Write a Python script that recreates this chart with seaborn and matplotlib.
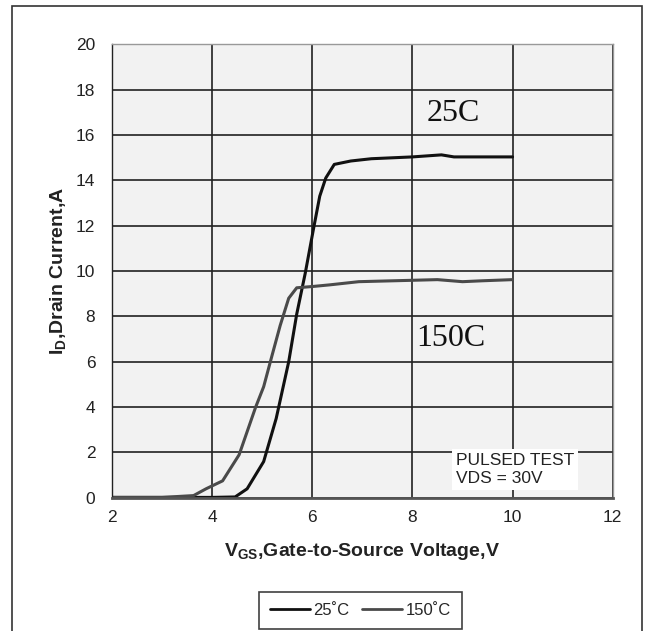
import numpy as np
import pandas as pd
import matplotlib.pyplot as plt
import seaborn as sns
from matplotlib.patches import Rectangle

# Datos (VGS en V, ID en A)
vgs_25 = [2.0, 3.0, 4.0, 4.46, 4.70, 5.03, 5.28, 5.53, 5.69, 5.86, 6.02, 6.15,
          6.27, 6.44, 6.77, 7.18, 8.0, 8.58, 8.83, 10.0]
id_25 = [0.02, 0.02, 0.02, 0.04, 0.4, 1.6, 3.5, 6.0, 8.1, 9.9, 11.8, 13.3,
         14.1, 14.7, 14.85, 14.95, 15.03, 15.12, 15.03, 15.03]

vgs_150 = [2.0, 3.0, 3.63, 3.88, 4.21, 4.54, 4.87, 5.03, 5.20, 5.36, 5.53, 5.69,
           6.02, 6.35, 6.93, 8.5, 9.0, 9.4, 10.0]
id_150 = [0.02, 0.02, 0.1, 0.4, 0.75, 1.9, 4.0, 4.9, 6.3, 7.6, 8.8, 9.26,
          9.32, 9.39, 9.53, 9.62, 9.53, 9.57, 9.62]

labels = ["25\u02daC", "150\u02daC"]
x_ticks = [2, 4, 6, 8, 10, 12]
y_ticks = [0, 2, 4, 6, 8, 10, 12, 14, 16, 18, 20]

data = pd.concat([
    pd.DataFrame({"VGS": vgs_25, "ID": id_25, "Temp": labels[0]}),
    pd.DataFrame({"VGS": vgs_150, "ID": id_150, "Temp": labels[1]}),
], ignore_index=True)

sns.set_theme(style="whitegrid")
plt.rcParams['font.family'] = ['Liberation Sans', 'DejaVu Sans']

fig = plt.figure(figsize=(6.47, 6.31), dpi=100)
fig.patches.append(Rectangle((0.019, -0.05), 0.973, 1.04, transform=fig.transFigure,
                             fill=False, edgecolor='#333333', linewidth=1.2))
ax = fig.add_axes([0.173, 0.211, 0.774, 0.719])
ax.set_facecolor('#f2f2f2')

sns.lineplot(data=data, x="VGS", y="ID", hue="Temp", sort=False,
             palette=["#111111", "#4a4a4a"], linewidth=2.2, ax=ax, legend=False)

ax.set_xlim(2, 12)
ax.set_ylim(0, 20)
ax.set_xticks(x_ticks)
ax.set_yticks(y_ticks)
ax.grid(True, color='#222222', linewidth=1.2)
ax.tick_params(axis='y', length=0, labelsize=12.5, colors='#222222', pad=12)
ax.tick_params(axis='x', length=0, labelsize=12.5, colors='#222222', pad=9)
for s in ax.spines.values():
    s.set_color('#999999')
    s.set_linewidth(1.0)
ax.spines['left'].set_color('#222222')
ax.spines['bottom'].set_color('#555555')
ax.spines['bottom'].set_linewidth(2.0)

ax.set_xlabel("V$_{\\mathregular{GS}}$,Gate-to-Source Voltage,V", fontsize=14,
              fontweight='bold', color='#222222', labelpad=11)
ax.set_ylabel("I$_{\\mathregular{D}}$,Drain Current,A", fontsize=14,
              fontweight='bold', color='#222222', labelpad=5)

ax.text(8.29, 16.6, "25C", family=['Liberation Serif'], fontsize=23, color='#111111')
ax.text(8.07, 6.7, "150C", family=['Liberation Serif'], fontsize=23, color='#111111')
ax.text(8.87, 0.66, "PULSED TEST\nVDS = 30V", fontsize=12.5, color='#222222',
        linespacing=1.25, bbox=dict(facecolor='white', edgecolor='none', pad=3))

handles = [plt.Line2D([], [], color="#111111", linewidth=2),
           plt.Line2D([], [], color="#4a4a4a", linewidth=2)]
leg = fig.legend(handles, labels, loc='center', bbox_to_anchor=(0.557, 0.033),
                 ncol=2, frameon=True, fancybox=False, fontsize=12,
                 handlelength=2.4, handletextpad=0.2, columnspacing=0.8,
                 borderpad=0.65)
leg.get_frame().set_edgecolor('#111111')
leg.get_frame().set_linewidth(1.2)

fig.savefig("out.png", dpi=100)
